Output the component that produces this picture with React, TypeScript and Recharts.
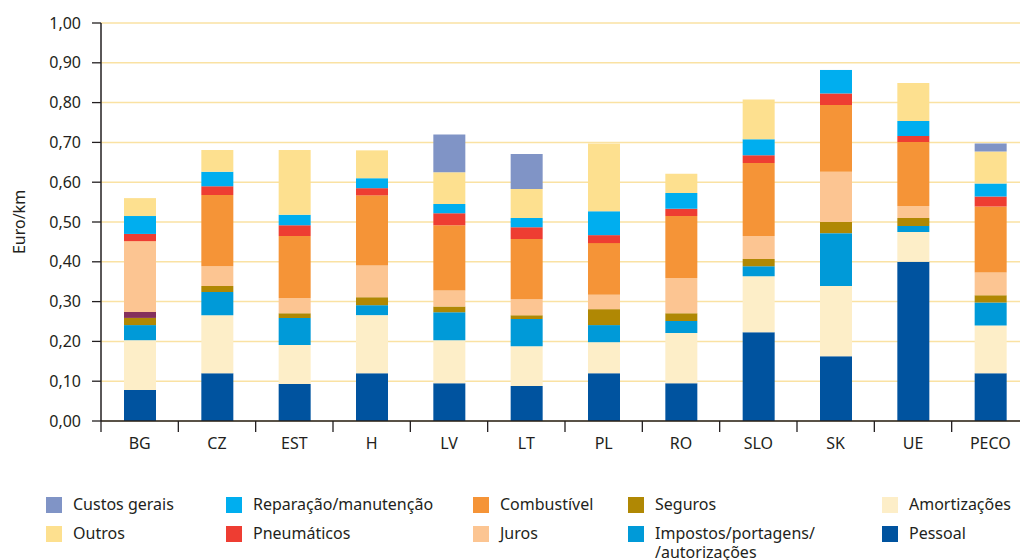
import React from "react";
import { Bar, BarChart, CartesianGrid, Label, XAxis, YAxis } from "recharts";

// valores em Euro/km
const categories = ["BG", "CZ", "EST", "H", "LV", "LT", "PL", "RO", "SLO", "SK", "UE", "PECO"];
const pessoal = [0.078, 0.12, 0.093, 0.12, 0.095, 0.088, 0.12, 0.095, 0.223, 0.163, 0.4, 0.12];
const amortizacoes = [0.125, 0.146, 0.098, 0.146, 0.108, 0.1, 0.078, 0.126, 0.141, 0.176, 0.075, 0.12];
const impostos = [0.038, 0.058, 0.068, 0.025, 0.07, 0.068, 0.043, 0.03, 0.025, 0.133, 0.015, 0.058];
const seguros = [0.018, 0.015, 0.012, 0.02, 0.015, 0.01, 0.04, 0.02, 0.018, 0.028, 0.02, 0.018];
const semLegenda = [0.015, 0, 0, 0, 0, 0, 0, 0, 0, 0, 0, 0];
const juros = [0.178, 0.05, 0.038, 0.08, 0.04, 0.04, 0.036, 0.088, 0.058, 0.126, 0.03, 0.057];
const combustivel = [0, 0.179, 0.156, 0.176, 0.164, 0.151, 0.13, 0.156, 0.183, 0.168, 0.161, 0.166];
const pneumaticos = [0.018, 0.022, 0.027, 0.018, 0.03, 0.03, 0.02, 0.018, 0.02, 0.029, 0.015, 0.025];
const reparacao = [0.045, 0.036, 0.026, 0.025, 0.023, 0.023, 0.06, 0.04, 0.04, 0.059, 0.038, 0.033];
const outros = [0.045, 0.055, 0.163, 0.07, 0.08, 0.073, 0.17, 0.048, 0.1, 0, 0.095, 0.08];
const custosGerais = [0, 0, 0, 0, 0.095, 0.088, 0, 0, 0, 0, 0, 0.02];
const yTicks = [0, 0.1, 0.2, 0.3, 0.4, 0.5, 0.6, 0.7, 0.8, 0.9, 1];

// ordem de empilhamento, de baixo para cima
const series = [
  { key: "pessoal", name: "Pessoal", color: "#00539f", values: pessoal },
  { key: "amortizacoes", name: "Amortizações", color: "#fdeec8", values: amortizacoes },
  { key: "impostos", name: "Impostos/portagens/\n/autorizações", color: "#009ad8", values: impostos },
  { key: "seguros", name: "Seguros", color: "#b08804", values: seguros },
  { key: "semLegenda", name: "", color: "#85305b", values: semLegenda },
  { key: "juros", name: "Juros", color: "#fcc592", values: juros },
  { key: "combustivel", name: "Combustível", color: "#f59437", values: combustivel },
  { key: "pneumaticos", name: "Pneumáticos", color: "#ee3d32", values: pneumaticos },
  { key: "reparacao", name: "Reparação/manutenção", color: "#00aeef", values: reparacao },
  { key: "outros", name: "Outros", color: "#fde08f", values: outros },
  { key: "custosGerais", name: "Custos gerais", color: "#8094c6", values: custosGerais },
];

const legendRows = [
  ["custosGerais", "reparacao", "combustivel", "seguros", "amortizacoes"],
  ["outros", "pneumaticos", "juros", "impostos", "pessoal"],
];
const legendCols = [46, 226, 473, 628, 882];
const legendTops = [497, 526];

const data = categories.map((cat, i) => {
  const row: Record<string, string | number> = { cat };
  series.forEach((s) => (row[s.key] = s.values[i]));
  return row;
});

const FONT = "'Noto Sans', sans-serif";
const INK = "#231f20";
const PLOT_LEFT = 101;
const PLOT_RIGHT = 1029;
const AXIS_Y = 421;
const BAND = (PLOT_RIGHT - PLOT_LEFT) / categories.length;

const fmt = (v: number) => v.toFixed(2).replace(".", ",");

const CategoryTick = (props: any) => {
  const { x, payload, index } = props;
  const left = x - BAND / 2;
  return (
    <g>
      <line x1={left} x2={left} y1={AXIS_Y} y2={AXIS_Y + 11} stroke={INK} strokeWidth={1.3} />
      {index === categories.length - 1 && (
        <line x1={x + BAND / 2} x2={x + BAND / 2} y1={AXIS_Y} y2={AXIS_Y + 11} stroke={INK} strokeWidth={1.3} />
      )}
      <text x={x} y={AXIS_Y + 17} dy="0.71em" textAnchor="middle" fill={INK} fontSize={16} fontFamily={FONT}>
        {payload.value}
      </text>
    </g>
  );
};

export default function App() {
  return (
    <div
      style={{
        position: "fixed",
        left: 0,
        top: 0,
        width: 1020,
        height: 560,
        overflow: "hidden",
        background: "#fff",
        fontFamily: FONT,
      }}
    >
      <BarChart
        width={PLOT_RIGHT + 1}
        height={560}
        data={data}
        margin={{ top: 23, right: 1, left: 0, bottom: 99 }}
        barSize={32}
      >
        <CartesianGrid vertical={false} stroke="#fae2a3" strokeWidth={1.5} />
        <XAxis
          dataKey="cat"
          height={40}
          interval={0}
          tickLine={false}
          axisLine={{ stroke: INK, strokeWidth: 1.5 }}
          tick={<CategoryTick />}
        />
        <YAxis
          width={PLOT_LEFT}
          domain={[0, 1]}
          ticks={yTicks}
          interval={0}
          tickFormatter={fmt}
          tickSize={9}
          tickMargin={11}
          axisLine={{ stroke: INK, strokeWidth: 1.5 }}
          tickLine={{ stroke: INK, strokeWidth: 1.3 }}
          tick={{ fill: INK, fontSize: 16, fontFamily: FONT }}
        >
          <Label
            content={() => (
              <text
                transform="translate(19,222) rotate(-90)"
                textAnchor="middle"
                dominantBaseline="central"
                fill={INK}
                fontSize={16}
                fontFamily={FONT}
              >
                Euro/km
              </text>
            )}
          />
        </YAxis>
        {series.map((s) => (
          <Bar key={s.key} dataKey={s.key} name={s.name} stackId="a" fill={s.color} isAnimationActive={false} />
        ))}
      </BarChart>

      {legendRows.map((row, r) =>
        row.map((key, c) => {
          const s = series.find((x) => x.key === key)!;
          return (
            <div key={key}>
              <div
                style={{
                  position: "absolute",
                  left: legendCols[c],
                  top: legendTops[r],
                  width: 16,
                  height: 16,
                  background: s.color,
                }}
              />
              <div
                style={{
                  position: "absolute",
                  left: legendCols[c] + 27,
                  top: legendTops[r] - 2,
                  fontSize: 16,
                  lineHeight: "19px",
                  color: INK,
                  whiteSpace: "pre",
                }}
              >
                {s.name}
              </div>
            </div>
          );
        })
      )}
    </div>
  );
}
